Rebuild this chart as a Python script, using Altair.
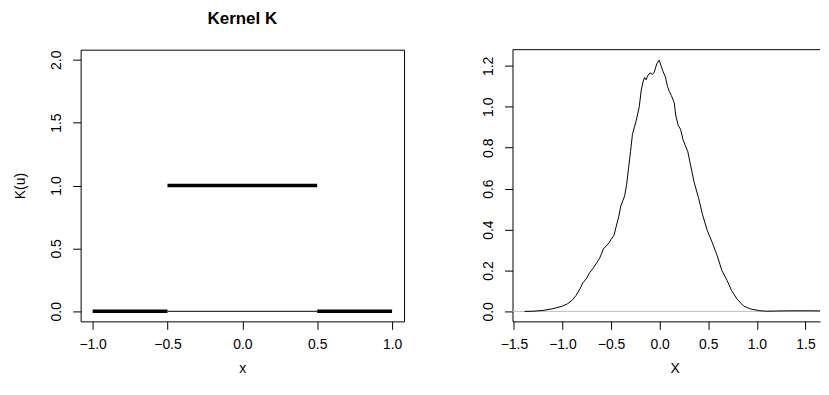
import altair as alt
import pandas as pd

FONT = "Liberation Sans"

# ---- left panel: uniform kernel K(u) ----
seg_x = [-1.0, -0.5, 0.5]
seg_x2 = [-0.5, 0.5, 1.0]
seg_y = [0.0, 1.0, 0.0]
thin_x = [-0.5]
thin_x2 = [0.5]
thin_y = [0.0]
left_x_ticks = [-1.0, -0.5, 0.0, 0.5, 1.0]
left_y_ticks = [0.0, 0.5, 1.0, 1.5, 2.0]

# ---- right panel: density estimate ----
dens_x = [-1.39, -1.30, -1.20, -1.10, -1.00, -0.95, -0.90, -0.86, -0.82, -0.79,
          -0.75, -0.72, -0.69, -0.65, -0.62, -0.60, -0.58, -0.55, -0.52, -0.50,
          -0.47, -0.45, -0.42, -0.40, -0.38, -0.36, -0.34, -0.32, -0.30, -0.28,
          -0.26, -0.24, -0.21, -0.19, -0.17, -0.155, -0.14, -0.125, -0.10, -0.075,
          -0.055, -0.03, -0.005, 0.015, 0.03, 0.06, 0.08, 0.10, 0.12, 0.15,
          0.165, 0.19, 0.215, 0.24, 0.26, 0.29, 0.32, 0.355, 0.40, 0.44,
          0.49, 0.54, 0.59, 0.64, 0.695, 0.74, 0.80, 0.865, 0.935, 1.02,
          1.10, 1.20, 1.35, 1.55, 1.70]
dens_y = [0.000, 0.001, 0.005, 0.013, 0.026, 0.037, 0.055, 0.078, 0.110, 0.140,
          0.163, 0.190, 0.207, 0.236, 0.258, 0.280, 0.305, 0.320, 0.335, 0.352,
          0.372, 0.410, 0.465, 0.515, 0.540, 0.565, 0.620, 0.700, 0.780, 0.865,
          0.900, 0.935, 1.000, 1.080, 1.125, 1.143, 1.132, 1.150, 1.166, 1.158,
          1.170, 1.210, 1.228, 1.200, 1.178, 1.145, 1.100, 1.075, 1.055, 1.020,
          0.960, 0.910, 0.890, 0.840, 0.815, 0.780, 0.710, 0.630, 0.555, 0.475,
          0.395, 0.338, 0.275, 0.200, 0.150, 0.102, 0.058, 0.026, 0.012, 0.004,
          0.001, 0.002, 0.003, 0.003, 0.002]
right_x_ticks = [-1.5, -1.0, -0.5, 0.0, 0.5, 1.0, 1.5]
right_y_ticks = [0.0, 0.2, 0.4, 0.6, 0.8, 1.0, 1.2]

seg_df = pd.DataFrame({"x": seg_x, "x2": seg_x2, "y": seg_y})
thin_df = pd.DataFrame({"x": thin_x, "x2": thin_x2, "y": thin_y})
dens_df = pd.DataFrame({"x": dens_x, "y": dens_y})

common_axis = dict(
    labelFont=FONT, labelFontSize=14, labelColor="black",
    titleFont=FONT, titleFontSize=14, titleColor="black", titleFontWeight="normal",
    tickColor="black", tickSize=8, grid=False,
)

PLOT_H = 273

xsL = alt.Scale(domain=[-1.08, 1.08], nice=False, zero=False)
ysL = alt.Scale(domain=[-0.08, 2.08], nice=False, zero=False)

xaxL = alt.Axis(values=left_x_ticks, format=".1f", title="x", domain=False,
                labelPadding=8, titlePadding=10, **common_axis)
yaxL = alt.Axis(values=left_y_ticks, format=".1f", title="K(u)", domain=False,
                labelAngle=270, labelAlign="center", labelBaseline="bottom",
                labelPadding=9, titlePadding=22, **common_axis)

thin = alt.Chart(thin_df).mark_rule(color="black", strokeWidth=1).encode(
    x=alt.X("x:Q", scale=xsL, axis=xaxL), x2="x2:Q",
    y=alt.Y("y:Q", scale=ysL, axis=yaxL),
)
thick = alt.Chart(seg_df).mark_rule(color="black", strokeWidth=3.5, strokeCap="butt").encode(
    x=alt.X("x:Q", scale=xsL, axis=xaxL), x2="x2:Q",
    y=alt.Y("y:Q", scale=ysL, axis=yaxL),
)
left = alt.layer(thin, thick).properties(
    width=325, height=PLOT_H,
    title=alt.TitleParams("Kernel K", font=FONT, fontSize=17, fontWeight="bold",
                          color="black", anchor="middle", offset=22),
    view=alt.ViewBackground(stroke="black", strokeWidth=1),
)

RIGHT_W = 309
RX = [-1.514, -1.514 + RIGHT_W / 97.67]
RY = [-0.0486, 1.279]
xsR = alt.Scale(domain=RX, nice=False, zero=False)
ysR = alt.Scale(domain=RY, nice=False, zero=False)
xaxR = alt.Axis(values=right_x_ticks, format=".1f", title="X", domain=True,
                domainColor="black", labelPadding=8, titlePadding=10, titleX=163,
                **common_axis)
yaxR = alt.Axis(values=right_y_ticks, format=".1f", title=None, domain=True,
                domainColor="black", labelAngle=270, labelAlign="center",
                labelBaseline="bottom", labelPadding=9, **common_axis)

zero_line = alt.Chart(pd.DataFrame({"y": [0.0]})).mark_rule(color="#BEBEBE", strokeWidth=1).encode(
    y=alt.Y("y:Q", scale=ysR, axis=yaxR)
)
top_border = alt.Chart(pd.DataFrame({"y": [RY[1]]})).mark_rule(color="black", strokeWidth=1).encode(
    y=alt.Y("y:Q", scale=ysR, axis=yaxR)
)
curve = alt.Chart(dens_df).mark_line(color="black", strokeWidth=1, clip=True).encode(
    x=alt.X("x:Q", scale=xsR, axis=xaxR),
    y=alt.Y("y:Q", scale=ysR, axis=yaxR),
    order="x:Q",
)
right = alt.layer(zero_line, curve, top_border).properties(
    width=RIGHT_W, height=PLOT_H,
    view=alt.ViewBackground(stroke="transparent"),
)

chart = alt.hconcat(left, right, spacing=76).properties(
    padding={"left": 5, "top": 0, "right": 0, "bottom": 0},
    background="white",
).configure_view(stroke="transparent")

chart.save("out.html", embed_options={"renderer": "svg", "actions": False})
